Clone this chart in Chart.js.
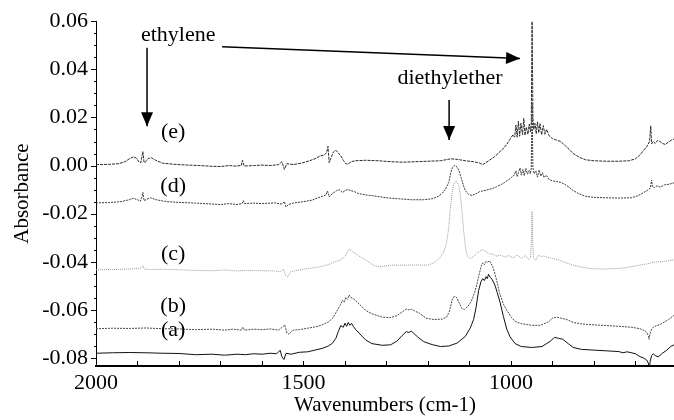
<!DOCTYPE html>
<html>
<head>
<meta charset="utf-8">
<script src="https://cdn.jsdelivr.net/npm/chart.js@4/dist/chart.umd.min.js"></script>
<style>
  html, body { margin: 0; padding: 0; background: #fff; }
  canvas { display: block; }
</style>
</head>
<body>
<canvas id="spectra" width="674" height="420"></canvas>
<script>
// IR difference spectra, wavenumber (cm-1) vs absorbance
const wnA = [2000, 1960, 1920, 1880, 1840, 1800, 1760, 1720, 1690, 1660, 1640, 1620, 1600, 1580, 1565, 1556, 1552, 1547, 1542, 1530, 1510, 1490, 1470, 1455, 1440, 1430, 1422, 1416, 1410, 1404, 1400, 1396, 1392, 1388, 1384, 1380, 1375, 1364, 1350, 1335, 1310, 1290, 1275, 1262, 1252, 1246, 1240, 1235, 1225, 1210, 1190, 1170, 1150, 1130, 1110, 1098, 1090, 1084, 1078, 1072, 1068, 1064, 1060, 1057, 1054, 1050, 1046, 1042, 1038, 1033, 1026, 1018, 1010, 1002, 990, 975, 950, 925, 905, 895, 885, 875, 862, 850, 830, 800, 770, 740, 730, 720, 700, 689, 680, 673, 669, 667, 665, 661, 657, 652, 645, 635, 625, 615, 607]
const absA = [-0.0780, -0.0778, -0.0777, -0.0778, -0.0780, -0.0781, -0.0786, -0.0784, -0.0788, -0.0784, -0.0786, -0.0782, -0.0784, -0.0780, -0.0782, -0.0768, -0.0795, -0.0806, -0.0780, -0.0784, -0.0776, -0.0774, -0.0766, -0.0760, -0.0750, -0.0738, -0.0718, -0.0690, -0.0665, -0.0672, -0.0655, -0.0668, -0.0652, -0.0664, -0.0656, -0.0668, -0.0680, -0.0700, -0.0725, -0.0740, -0.0747, -0.0745, -0.0730, -0.0706, -0.0690, -0.0694, -0.0688, -0.0696, -0.0712, -0.0732, -0.0744, -0.0752, -0.0750, -0.0738, -0.0710, -0.0675, -0.0640, -0.0590, -0.0520, -0.0482, -0.0470, -0.0478, -0.0462, -0.0470, -0.0452, -0.0464, -0.0472, -0.0484, -0.0500, -0.0528, -0.0570, -0.0628, -0.0680, -0.0712, -0.0740, -0.0752, -0.0756, -0.0752, -0.0730, -0.0714, -0.0718, -0.0722, -0.0740, -0.0756, -0.0764, -0.0767, -0.0770, -0.0773, -0.0778, -0.0774, -0.0782, -0.0794, -0.0800, -0.0808, -0.0820, -0.0845, -0.0818, -0.0790, -0.0782, -0.0790, -0.0795, -0.0780, -0.0768, -0.0752, -0.0745]

const wnB = [2000, 1960, 1920, 1880, 1840, 1800, 1760, 1720, 1690, 1670, 1650, 1646, 1642, 1620, 1600, 1580, 1560, 1550, 1545, 1540, 1535, 1525, 1510, 1490, 1470, 1455, 1440, 1430, 1420, 1412, 1406, 1402, 1398, 1394, 1390, 1386, 1381, 1375, 1364, 1350, 1335, 1310, 1290, 1275, 1262, 1252, 1246, 1240, 1232, 1220, 1205, 1185, 1165, 1155, 1148, 1142, 1138, 1134, 1130, 1125, 1118, 1112, 1104, 1096, 1090, 1084, 1078, 1072, 1068, 1064, 1060, 1056, 1052, 1048, 1044, 1040, 1034, 1027, 1018, 1010, 1000, 990, 975, 950, 930, 910, 900, 890, 880, 865, 850, 830, 800, 770, 740, 710, 689, 678, 672, 669, 667, 665, 661, 657, 650, 640, 630, 620, 607]
const absB = [-0.0678, -0.0676, -0.0677, -0.0675, -0.0678, -0.0679, -0.0682, -0.0680, -0.0684, -0.0680, -0.0684, -0.0672, -0.0684, -0.0680, -0.0682, -0.0679, -0.0684, -0.0670, -0.0662, -0.0696, -0.0700, -0.0684, -0.0682, -0.0676, -0.0670, -0.0662, -0.0650, -0.0635, -0.0606, -0.0582, -0.0560, -0.0568, -0.0548, -0.0556, -0.0538, -0.0548, -0.0552, -0.0560, -0.0578, -0.0602, -0.0616, -0.0630, -0.0632, -0.0624, -0.0608, -0.0596, -0.0600, -0.0597, -0.0604, -0.0614, -0.0634, -0.0640, -0.0638, -0.0630, -0.0605, -0.0560, -0.0546, -0.0544, -0.0550, -0.0570, -0.0594, -0.0598, -0.0586, -0.0566, -0.0540, -0.0508, -0.0462, -0.0420, -0.0404, -0.0412, -0.0398, -0.0402, -0.0396, -0.0406, -0.0420, -0.0440, -0.0480, -0.0532, -0.0576, -0.0602, -0.0628, -0.0648, -0.0657, -0.0664, -0.0664, -0.0650, -0.0634, -0.0630, -0.0634, -0.0640, -0.0652, -0.0658, -0.0662, -0.0665, -0.0668, -0.0672, -0.0678, -0.0686, -0.0694, -0.0708, -0.0722, -0.0700, -0.0680, -0.0672, -0.0666, -0.0660, -0.0650, -0.0640, -0.0622]

const wnC = [2000, 1960, 1920, 1895, 1890, 1887, 1884, 1870, 1840, 1800, 1760, 1720, 1690, 1660, 1640, 1600, 1570, 1555, 1548, 1543, 1538, 1530, 1510, 1490, 1470, 1455, 1440, 1425, 1415, 1405, 1398, 1392, 1388, 1384, 1378, 1370, 1360, 1345, 1330, 1315, 1290, 1260, 1230, 1200, 1185, 1172, 1162, 1155, 1150, 1146, 1142, 1138, 1134, 1130, 1126, 1122, 1118, 1114, 1110, 1105, 1098, 1090, 1080, 1072, 1066, 1060, 1052, 1045, 1035, 1025, 1015, 1005, 995, 985, 975, 965, 958, 953, 950, 949, 948, 946, 940, 934, 928, 920, 910, 900, 885, 870, 850, 830, 810, 780, 750, 730, 710, 690, 670, 660, 645, 630, 607]
const absC = [-0.0433, -0.0432, -0.0430, -0.0428, -0.0424, -0.0416, -0.0430, -0.0432, -0.0431, -0.0433, -0.0436, -0.0437, -0.0434, -0.0438, -0.0436, -0.0437, -0.0438, -0.0440, -0.0432, -0.0458, -0.0462, -0.0440, -0.0434, -0.0428, -0.0424, -0.0418, -0.0412, -0.0400, -0.0395, -0.0385, -0.0372, -0.0352, -0.0348, -0.0356, -0.0362, -0.0372, -0.0382, -0.0398, -0.0416, -0.0420, -0.0414, -0.0414, -0.0413, -0.0414, -0.0404, -0.0385, -0.0360, -0.0320, -0.0260, -0.0180, -0.0115, -0.0080, -0.0066, -0.0068, -0.0082, -0.0120, -0.0190, -0.0270, -0.0335, -0.0378, -0.0386, -0.0378, -0.0362, -0.0352, -0.0350, -0.0358, -0.0366, -0.0368, -0.0376, -0.0372, -0.0380, -0.0374, -0.0384, -0.0372, -0.0386, -0.0374, -0.0390, -0.0380, -0.0300, -0.0190, -0.0290, -0.0382, -0.0394, -0.0372, -0.0378, -0.0376, -0.0382, -0.0386, -0.0392, -0.0402, -0.0414, -0.0422, -0.0428, -0.0430, -0.0428, -0.0426, -0.0420, -0.0414, -0.0408, -0.0402, -0.0400, -0.0398, -0.0392]

const wnD = [2000, 1970, 1940, 1920, 1910, 1900, 1893, 1889, 1887, 1884, 1878, 1868, 1855, 1830, 1800, 1760, 1720, 1700, 1680, 1660, 1648, 1645, 1642, 1620, 1600, 1570, 1552, 1546, 1542, 1536, 1525, 1500, 1480, 1465, 1455, 1446, 1442, 1438, 1430, 1420, 1414, 1406, 1400, 1394, 1386, 1378, 1368, 1350, 1330, 1300, 1270, 1240, 1210, 1190, 1175, 1165, 1157, 1150, 1145, 1141, 1137, 1133, 1129, 1125, 1120, 1115, 1110, 1102, 1094, 1085, 1075, 1065, 1055, 1045, 1035, 1025, 1015, 1005, 998, 992, 988, 985, 982, 978, 975, 971, 968, 964, 960, 956, 953, 951, 949, 947, 944, 940, 936, 932, 928, 924, 920, 915, 908, 900, 890, 880, 870, 860, 850, 835, 820, 800, 770, 740, 710, 695, 684, 672, 664, 661, 659, 654, 648, 640, 630, 620, 607]
const absD = [-0.0155, -0.0154, -0.0150, -0.0142, -0.0136, -0.0142, -0.0148, -0.0128, -0.0112, -0.0146, -0.0140, -0.0134, -0.0142, -0.0150, -0.0153, -0.0156, -0.0160, -0.0162, -0.0158, -0.0162, -0.0158, -0.0146, -0.0158, -0.0156, -0.0158, -0.0155, -0.0160, -0.0150, -0.0172, -0.0162, -0.0156, -0.0150, -0.0144, -0.0134, -0.0128, -0.0122, -0.0106, -0.0130, -0.0116, -0.0104, -0.0100, -0.0112, -0.0104, -0.0100, -0.0104, -0.0108, -0.0116, -0.0122, -0.0126, -0.0134, -0.0138, -0.0142, -0.0142, -0.0138, -0.0128, -0.0114, -0.0096, -0.0070, -0.0030, -0.0008, 0.0000, -0.0002, -0.0008, -0.0022, -0.0050, -0.0080, -0.0104, -0.0120, -0.0124, -0.0118, -0.0108, -0.0104, -0.0100, -0.0096, -0.0088, -0.0080, -0.0070, -0.0058, -0.0048, -0.0040, -0.0022, -0.0046, -0.0030, -0.0010, -0.0040, -0.0016, -0.0042, -0.0012, -0.0036, -0.0020, -0.0034, -0.0010, 0.0260, -0.0010, -0.0034, -0.0022, -0.0048, -0.0018, -0.0044, -0.0030, -0.0050, -0.0040, -0.0058, -0.0064, -0.0066, -0.0070, -0.0078, -0.0090, -0.0104, -0.0118, -0.0128, -0.0132, -0.0134, -0.0135, -0.0134, -0.0126, -0.0116, -0.0104, -0.0094, -0.0060, -0.0088, -0.0092, -0.0084, -0.0090, -0.0080, -0.0078, -0.0072]

const wnE = [2000, 1970, 1945, 1930, 1918, 1910, 1902, 1896, 1892, 1889, 1887, 1884, 1880, 1874, 1866, 1856, 1840, 1810, 1780, 1750, 1720, 1700, 1680, 1665, 1650, 1647, 1643, 1620, 1600, 1580, 1560, 1552, 1546, 1540, 1525, 1505, 1485, 1470, 1460, 1450, 1444, 1441, 1438, 1434, 1428, 1422, 1416, 1410, 1404, 1398, 1393, 1385, 1375, 1350, 1320, 1290, 1260, 1230, 1200, 1170, 1145, 1130, 1110, 1090, 1075, 1068, 1062, 1052, 1040, 1030, 1020, 1010, 1002, 995, 991, 988, 985, 982, 979, 976, 972, 969, 966, 963, 959, 956, 953, 951, 949, 947, 945, 942, 939, 936, 933, 930, 926, 922, 918, 914, 908, 900, 890, 880, 870, 860, 850, 835, 820, 800, 770, 740, 715, 700, 690, 680, 672, 666, 663, 661, 657, 652, 647, 641, 635, 628, 620, 613, 607]
const absE = [0.0004, 0.0005, 0.0008, 0.0016, 0.0030, 0.0036, 0.0030, 0.0014, 0.0012, 0.0040, 0.0058, 0.0012, 0.0016, 0.0030, 0.0032, 0.0022, 0.0010, 0.0005, 0.0002, 0.0000, -0.0003, -0.0004, 0.0000, -0.0002, 0.0000, 0.0022, -0.0002, 0.0000, 0.0002, 0.0000, 0.0004, 0.0016, -0.0016, 0.0008, 0.0004, 0.0010, 0.0020, 0.0030, 0.0040, 0.0044, 0.0054, 0.0080, 0.0012, 0.0030, 0.0056, 0.0064, 0.0052, 0.0040, 0.0022, 0.0008, 0.0006, 0.0016, 0.0020, 0.0022, 0.0020, 0.0016, 0.0014, 0.0016, 0.0018, 0.0020, 0.0028, 0.0026, 0.0020, 0.0016, 0.0010, 0.0004, 0.0010, 0.0022, 0.0036, 0.0052, 0.0068, 0.0088, 0.0110, 0.0128, 0.0118, 0.0168, 0.0118, 0.0184, 0.0122, 0.0176, 0.0128, 0.0196, 0.0126, 0.0160, 0.0130, 0.0172, 0.0140, 0.0180, 0.0615, 0.0200, 0.0150, 0.0176, 0.0132, 0.0182, 0.0136, 0.0174, 0.0128, 0.0166, 0.0130, 0.0150, 0.0124, 0.0112, 0.0106, 0.0100, 0.0084, 0.0068, 0.0050, 0.0034, 0.0024, 0.0020, 0.0018, 0.0018, 0.0020, 0.0028, 0.0042, 0.0064, 0.0080, 0.0100, 0.0165, 0.0090, 0.0100, 0.0092, 0.0104, 0.0100, 0.0092, 0.0088, 0.0098, 0.0106, 0.0110]

const traceNames = ['(a)', '(b)', '(c)', '(d)', '(e)']
const traceColors = ['#111111', '#4a4a4a', '#9a9a9a', '#3a3a3a', '#2a2a2a']
const traceDash = [[], [2, 1], [1, 1], [2, 1], [3, 1]]
const xLabels = [2000, 1500, 1000]

// where the trace letters and the band markers sit, in axis units
const letterPos = [[1814, -0.0686], [1814, -0.0584], [1814, -0.0367], [1814, -0.0086], [1814, 0.0139]]
const bandText = [['ethylene', 1802, 0.0540], ['diethylether', 1147, 0.0365]]
const bandArrows = [
  [1877, 0.0490, 1877, 0.0163],
  [1696, 0.0494, 978, 0.0445],
  [1149, 0.0273, 1149, 0.0106]
]

const serif = '"Liberation Serif", "Times New Roman", serif'

function pts(wn, ab) {
  return wn.map((w, i) => ({ x: w, y: ab[i] }))
}

const series = [pts(wnA, absA), pts(wnB, absB), pts(wnC, absC), pts(wnD, absD), pts(wnE, absE)]

function arrowHead(ctx, x1, y1, x2, y2) {
  const a = Math.atan2(y2 - y1, x2 - x1)
  const len = 14, half = 6
  ctx.beginPath()
  ctx.moveTo(x2, y2)
  ctx.lineTo(x2 - len * Math.cos(a) + half * Math.sin(a), y2 - len * Math.sin(a) - half * Math.cos(a))
  ctx.lineTo(x2 - len * Math.cos(a) - half * Math.sin(a), y2 - len * Math.sin(a) + half * Math.cos(a))
  ctx.closePath()
  ctx.fill()
}

// inward x ticks, outward y ticks with minors, plus the labels and arrows
const extras = {
  id: 'extras',
  afterDraw(chart) {
    const ctx = chart.ctx
    const xs = chart.scales.x, ys = chart.scales.y
    const area = chart.chartArea
    ctx.save()
    ctx.strokeStyle = '#000'
    ctx.lineWidth = 1
    for (let w = 700; w <= 2000; w += 100) {
      const px = Math.round(xs.getPixelForValue(w)) + 0.5
      ctx.beginPath()
      ctx.moveTo(px, area.bottom)
      ctx.lineTo(px, area.bottom - 5)
      ctx.stroke()
    }
    for (let k = -16; k <= 12; k++) {
      const v = k * 0.005
      const py = Math.round(ys.getPixelForValue(v)) + 0.5
      const major = k % 4 === 0
      ctx.beginPath()
      ctx.moveTo(area.left, py)
      ctx.lineTo(area.left - (major ? 5 : 2), py)
      ctx.stroke()
    }

    ctx.fillStyle = '#000'
    ctx.font = '22px ' + serif
    ctx.textAlign = 'center'
    ctx.textBaseline = 'middle'
    letterPos.forEach((p, i) => {
      ctx.fillText(traceNames[i], xs.getPixelForValue(p[0]), ys.getPixelForValue(p[1]))
    })
    bandText.forEach(t => {
      ctx.fillText(t[0], xs.getPixelForValue(t[1]), ys.getPixelForValue(t[2]))
    })

    ctx.lineWidth = 1.5
    bandArrows.forEach(a => {
      const x1 = xs.getPixelForValue(a[0]), y1 = ys.getPixelForValue(a[1])
      const x2 = xs.getPixelForValue(a[2]), y2 = ys.getPixelForValue(a[3])
      ctx.beginPath()
      ctx.moveTo(x1, y1)
      ctx.lineTo(x2, y2)
      ctx.stroke()
      arrowHead(ctx, x1, y1, x2, y2)
    })
    ctx.restore()
  }
}

new Chart(document.getElementById('spectra'), {
  type: 'line',
  data: {
    datasets: series.map((d, i) => ({
      label: traceNames[i],
      data: d,
      borderColor: traceColors[i],
      borderWidth: 1,
      borderDash: traceDash[i],
      pointRadius: 0,
      tension: 0,
      fill: false
    }))
  },
  options: {
    responsive: false,
    animation: false,
    layout: { padding: { top: 15, right: 0, bottom: 0, left: 0 } },
    plugins: { legend: { display: false }, tooltip: { enabled: false } },
    scales: {
      x: {
        type: 'linear',
        reverse: true,
        min: 607,
        max: 2000,
        afterBuildTicks(scale) { scale.ticks = xLabels.map(v => ({ value: v })) },
        afterFit(scale) { scale.height = 54 },
        grid: { display: false, drawTicks: false },
        border: { display: true, color: '#000', width: 2 },
        ticks: {
          maxRotation: 0,
          autoSkip: false,
          padding: 4,
          color: '#000',
          font: { family: serif, size: 22 },
          callback: v => String(v)
        },
        title: {
          display: true,
          text: 'Wavenumbers (cm-1)',
          color: '#000',
          font: { family: serif, size: 21 },
          padding: { top: 0, bottom: 2 }
        }
      },
      y: {
        min: -0.0833,
        max: 0.060,
        afterFit(scale) { scale.width = 96 },
        grid: { display: false, drawTicks: false },
        border: { display: true, color: '#000', width: 1 },
        ticks: {
          stepSize: 0.02,
          includeBounds: false,
          padding: 8,
          color: '#000',
          font: { family: serif, size: 22 },
          callback: v => v.toFixed(2)
        },
        title: {
          display: true,
          text: 'Absorbance',
          color: '#000',
          font: { family: serif, size: 21 },
          padding: { top: 10, bottom: 0 }
        }
      }
    }
  },
  plugins: [extras]
})
</script>
</body>
</html>
